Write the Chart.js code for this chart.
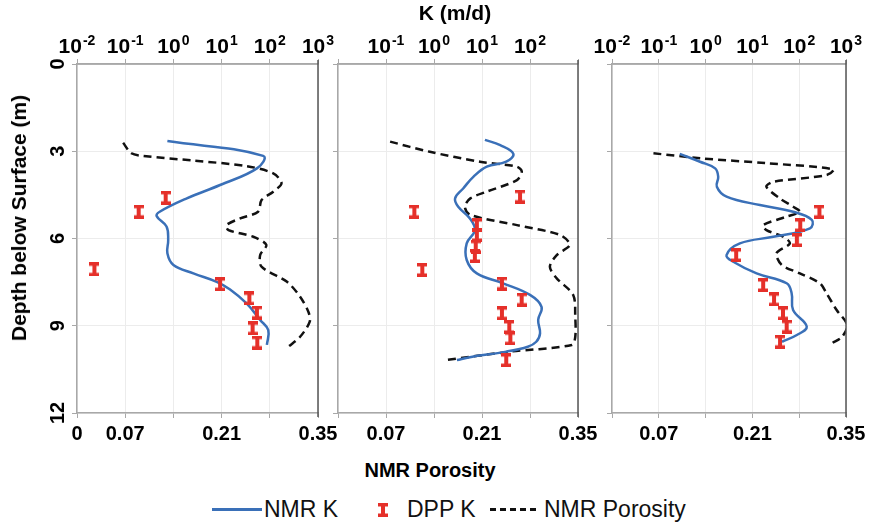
<!DOCTYPE html>
<html>
<head>
<meta charset="utf-8">
<script src="https://cdn.jsdelivr.net/npm/chart.js@4"></script>
<style>
  html, body { margin:0; padding:0; background:#fff; }
  #wrap { position:relative; width:875px; height:524px; overflow:hidden; font-family:"Liberation Sans", Arial, sans-serif; }
  canvas.panel { position:absolute; left:0; top:0; }
  .t { position:absolute; font-weight:bold; color:#000; white-space:nowrap; }
  #ktitle { left:455px; top:13px; font-size:21px; transform:translate(-50%,-50%); }
  #ptitle { left:430px; top:470px; font-size:20px; transform:translate(-50%,-50%); }
  #ytitle { left:19px; top:218px; font-size:21px; transform:translate(-50%,-50%) rotate(-90deg); }
  .lg { position:absolute; top:509px; transform:translateY(-50%); font-size:23px; color:#111; white-space:nowrap; }
  #lgBlue { position:absolute; left:212px; top:508px; width:50px; height:3px; background:#3a70b8; }
  #lgDash { position:absolute; left:490px; top:508px; width:46px; height:3px; background:repeating-linear-gradient(90deg,#111 0 6px,transparent 6px 10px); }
  #lgI { position:absolute; left:378px; top:503px; width:10px; height:14px; }
</style>
</head>
<body>
<div id="wrap">
  <canvas id="c1" class="panel" width="875" height="455"></canvas>
  <canvas id="c2" class="panel" width="875" height="455"></canvas>
  <canvas id="c3" class="panel" width="875" height="455"></canvas>
  <div id="ktitle" class="t">K (m/d)</div>
  <div id="ptitle" class="t">NMR Porosity</div>
  <div id="ytitle" class="t">Depth below Surface (m)</div>
  <div id="lgBlue"></div>
  <div class="lg" style="left:264px">NMR K</div>
  <canvas id="lgI" width="10" height="14"></canvas>
  <div class="lg" style="left:407px">DPP K</div>
  <div id="lgDash"></div>
  <div class="lg" style="left:544px">NMR Porosity</div>
</div>
<script>
// ---------- data ----------
const depthTicks = [0, 3, 6, 9, 12];
const kTicks = [0.01, 0.1, 1, 10, 100, 1000];
const kExponents = ['-2', '-1', '0', '1', '2', '3'];
const porTicks = [0, 0.07, 0.14, 0.21, 0.28, 0.35];
const porLabels1 = ['0', '0.07', '', '0.21', '', '0.35'];
const porLabels23 = ['', '0.07', '', '0.21', '', '0.35'];

// Panel 1
const p1NmrDepth = [2.65, 3.16, 3.59, 4.16, 4.62, 5.08, 5.23, 5.59, 6.05, 6.51, 6.91, 7.20, 7.49, 7.75, 8.23, 8.80, 9.15, 9.66];
const p1NmrK     = [0.75, 73, 54, 9.3, 1.9, 0.52, 0.45, 0.72, 0.78, 0.75, 1.0, 2.6, 7.9, 15, 33, 63, 93, 87];
const p1PorDepth = [2.71, 3.07, 3.16, 3.32, 3.51, 3.76, 4.10, 4.39, 4.68, 5.08, 5.31, 5.54, 5.71, 5.94, 6.22, 6.57, 6.97, 7.49, 8.00, 8.52, 8.86, 9.38, 9.72];
const p1Por      = [0.067, 0.079, 0.096, 0.169, 0.246, 0.285, 0.297, 0.285, 0.268, 0.263, 0.237, 0.217, 0.220, 0.256, 0.275, 0.266, 0.268, 0.305, 0.324, 0.336, 0.338, 0.324, 0.307];
const p1DppDepth = [4.60, 5.08, 7.06, 7.57, 8.06, 8.55, 9.09, 9.58];
const p1DppK     = [0.69, 0.19, 0.023, 9.3, 37.6, 54, 44, 55];

// Panel 2
const p2NmrDepth = [2.61, 2.79, 3.09, 3.36, 3.53, 3.88, 4.27, 4.62, 4.91, 5.31, 5.71, 6.17, 6.74, 7.20, 7.54, 7.94, 8.35, 8.80, 9.26, 9.55, 9.72, 9.89, 10.08, 10.18];
const p2NmrK     = [11.5, 24, 45, 32, 12.6, 6.6, 4.1, 2.75, 3.2, 5.6, 7.1, 4.8, 4.8, 7.8, 27.5, 100, 174, 148, 162, 135, 90, 32, 5.6, 3.0];
const p2PorDepth = [2.67, 3.02, 3.36, 3.53, 3.70, 3.99, 4.39, 4.62, 4.91, 5.19, 5.54, 5.88, 6.22, 6.57, 6.97, 7.37, 7.94, 8.69, 9.38, 9.66, 9.89, 10.18];
const p2Por      = [0.076, 0.134, 0.207, 0.261, 0.268, 0.261, 0.217, 0.193, 0.185, 0.193, 0.261, 0.324, 0.338, 0.319, 0.309, 0.319, 0.343, 0.346, 0.346, 0.341, 0.251, 0.156];
const p2DppDepth = [4.56, 5.08, 5.54, 5.88, 6.28, 6.60, 7.08, 7.55, 8.10, 8.57, 9.04, 9.43, 10.18];
const p2DppK     = [62, 0.39, 7.8, 7.8, 7.4, 7.1, 0.57, 26, 67, 26, 37, 39, 32];

// Panel 3
const p3NmrDepth = [3.09, 3.36, 3.59, 3.88, 4.22, 4.56, 4.85, 5.08, 5.36, 5.65, 5.94, 6.17, 6.57, 6.80, 7.20, 7.54, 7.89, 8.46, 9.03, 9.32, 9.55];
const p3NmrK     = [0.28, 0.76, 1.6, 1.86, 1.74, 2.8, 14.5, 74, 186, 170, 28, 5.4, 2.8, 3.9, 12.3, 54, 69, 74, 145, 89, 43];
const p3PorDepth = [3.07, 3.24, 3.41, 3.62, 3.82, 4.05, 4.22, 4.62, 4.91, 5.08, 5.25, 5.54, 5.71, 5.94, 6.17, 6.51, 6.91, 7.20, 7.54, 7.89, 8.46, 8.98, 9.38, 9.60];
const p3Por      = [0.062, 0.132, 0.231, 0.331, 0.321, 0.241, 0.231, 0.251, 0.271, 0.281, 0.261, 0.226, 0.231, 0.256, 0.266, 0.246, 0.254, 0.281, 0.311, 0.321, 0.336, 0.352, 0.344, 0.329];
const p3DppDepth = [5.08, 5.54, 6.05, 6.57, 7.60, 8.09, 8.57, 9.03, 9.55];
const p3DppK     = [270, 105, 89, 4.5, 17, 29, 45, 54, 39];

// ---------- styles ----------
const BLUE = '#3a70b8';
const RED = '#e5302a';
const GRID = '#ececec';
const AXIS = '#a8a8a8';
const FONT = '"Liberation Sans", Arial, sans-serif';

function makeIMarker(cv) {
  const c = cv || document.createElement('canvas');
  c.width = 10; c.height = 14;
  const g = c.getContext('2d');
  g.fillStyle = RED;
  g.fillRect(0, 0, 10, 3.5);
  g.fillRect(0, 10.5, 10, 3.5);
  g.fillRect(3, 2, 4, 10);
  return c;
}
const iMarker = makeIMarker();
makeIMarker(document.getElementById('lgI'));

const zip = (xs, ys) => xs.map((x, i) => ({ x: x, y: ys[i] }));

const panelPlugin = {
  id: 'panelDecor',
  afterDraw(chart, args, opts) {
    const ctx = chart.ctx;
    const a = chart.chartArea;
    ctx.save();
    // top frame
    ctx.strokeStyle = AXIS;
    ctx.lineWidth = 1.5;
    ctx.beginPath();
    ctx.moveTo(a.left, a.top);
    ctx.lineTo(a.right, a.top);
    ctx.stroke();
    // right frame
    ctx.strokeStyle = '#555';
    ctx.beginPath();
    ctx.moveTo(a.right, a.top - 4);
    ctx.lineTo(a.right, a.bottom + 4);
    ctx.stroke();
    // top K labels with superscripts
    const xs = chart.scales.xK;
    ctx.fillStyle = '#000';
    ctx.textBaseline = 'alphabetic';
    ctx.textAlign = 'left';
    kTicks.forEach((v, i) => {
      if (opts.kShow.indexOf(i) < 0) return;
      const px = xs.getPixelForValue(v);
      ctx.font = 'bold 21px ' + FONT;
      const w1 = ctx.measureText('10').width;
      ctx.font = 'bold 14px ' + FONT;
      const w2 = ctx.measureText(kExponents[i]).width;
      const x0 = px - (w1 + w2 + 1) / 2;
      ctx.font = 'bold 21px ' + FONT;
      ctx.fillText('10', x0, 53);
      ctx.font = 'bold 14px ' + FONT;
      ctx.fillText(kExponents[i], x0 + w1 + 1, 45);
    });
    // rotated depth labels
    if (opts.showY) {
      const ys = chart.scales.y;
      ctx.font = 'bold 20px ' + FONT;
      ctx.textAlign = 'center';
      ctx.textBaseline = 'middle';
      depthTicks.forEach(v => {
        const py = ys.getPixelForValue(v);
        ctx.save();
        ctx.translate(58, py);
        ctx.rotate(-Math.PI / 2);
        ctx.fillText(String(v), 0, 0);
        ctx.restore();
      });
    }
    ctx.restore();
  }
};

function makePanel(id, cfg) {
  const datasets = [
    {
      label: 'NMR K', xAxisID: 'xK', yAxisID: 'y',
      data: zip(cfg.nmrK, cfg.nmrDepth),
      borderColor: BLUE, borderWidth: 2.5, pointRadius: 0, tension: 0.4, showLine: true, fill: false, order: 2
    },
    {
      label: 'NMR Porosity', xAxisID: 'xP', yAxisID: 'y',
      data: zip(cfg.por, cfg.porDepth),
      borderColor: '#111', borderWidth: 2.5, borderDash: [8, 5], pointRadius: 0, tension: 0.3, showLine: true, fill: false, order: 3
    },
    {
      label: 'DPP K', xAxisID: 'xK', yAxisID: 'y',
      data: zip(cfg.dppK, cfg.dppDepth),
      showLine: false, pointStyle: iMarker, pointRadius: 6, borderColor: RED, backgroundColor: RED, order: 1
    }
  ];
  return new Chart(document.getElementById(id), {
    type: 'line',
    data: { datasets: datasets },
    plugins: [panelPlugin],
    options: {
      responsive: false,
      animation: false,
      devicePixelRatio: 1,
      layout: { padding: { left: cfg.padLeft, right: cfg.padRight, top: 0, bottom: 0 } },
      plugins: {
        legend: { display: false },
        tooltip: { enabled: false },
        panelDecor: { kShow: cfg.kShow, showY: cfg.showY }
      },
      scales: {
        y: {
          type: 'linear', position: 'left', reverse: true, min: 0, max: 12,
          afterBuildTicks: s => { s.ticks = depthTicks.map(v => ({ value: v })); },
          afterFit: s => { s.width = cfg.yWidth; },
          ticks: { display: false },
          grid: { color: GRID, lineWidth: 1, tickColor: AXIS, tickLength: 5, drawTicks: true },
          border: { display: true, color: AXIS, width: 1.5 }
        },
        xK: {
          type: 'logarithmic', position: 'top', min: 0.01, max: 1000,
          afterBuildTicks: s => { s.ticks = kTicks.map(v => ({ value: v })); },
          afterFit: s => { s.height = 64; },
          ticks: { display: false },
          grid: { drawOnChartArea: false, tickColor: AXIS, tickLength: 5 },
          border: { display: true, color: AXIS, width: 1.5 }
        },
        xP: {
          type: 'linear', position: 'bottom', min: 0, max: 0.35,
          afterBuildTicks: s => { s.ticks = porTicks.map(v => ({ value: v })); },
          afterFit: s => { s.height = 42; },
          ticks: {
            autoSkip: false, maxRotation: 0, minRotation: 0, padding: 4,
            color: '#000', font: { family: FONT, size: 20, weight: 'bold' },
            callback: (v, i) => cfg.porLabels[i]
          },
          grid: { color: GRID, lineWidth: 1, tickColor: AXIS, tickLength: 5 },
          border: { display: true, color: AXIS, width: 1.5 }
        }
      }
    }
  });
}

makePanel('c1', {
  nmrDepth: p1NmrDepth, nmrK: p1NmrK, porDepth: p1PorDepth, por: p1Por, dppDepth: p1DppDepth, dppK: p1DppK,
  padLeft: 0, padRight: 875 - 318, yWidth: 77, kShow: [0, 1, 2, 3, 4, 5], showY: true, porLabels: porLabels1
});
makePanel('c2', {
  nmrDepth: p2NmrDepth, nmrK: p2NmrK, porDepth: p2PorDepth, por: p2Por, dppDepth: p2DppDepth, dppK: p2DppK,
  padLeft: 328, padRight: 875 - 578, yWidth: 10, kShow: [1, 2, 3, 4], showY: false, porLabels: porLabels23
});
makePanel('c3', {
  nmrDepth: p3NmrDepth, nmrK: p3NmrK, porDepth: p3PorDepth, por: p3Por, dppDepth: p3DppDepth, dppK: p3DppK,
  padLeft: 602, padRight: 875 - 846, yWidth: 10, kShow: [0, 1, 2, 3, 4, 5], showY: false, porLabels: porLabels23
});
</script>
</body>
</html>
